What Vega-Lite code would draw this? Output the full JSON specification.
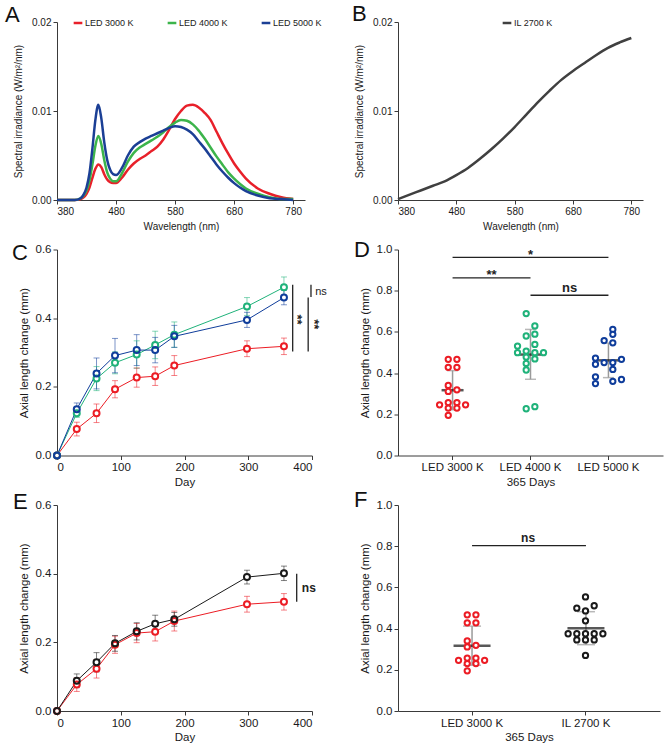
{
"$schema": "https://vega.github.io/schema/vega-lite/v6.json",
"background": "white",
"autosize": {"type": "none"},
"padding": {"left": 57, "top": 22, "right": 612, "bottom": 721},
"columns": 2,
"bounds": "flush",
"spacing": {"row": 49.5, "column": 86},
"resolve": {"scale": {"color": "independent", "stroke": "independent", "xOffset": "independent"}, "legend": {"color": "independent", "stroke": "independent"}},
"config": {
 "font": "Liberation Sans",
 "view": {"stroke": null},
 "axis": {"grid": false, "domainColor": "#3a3a3a", "tickColor": "#3a3a3a", "labelColor": "#1a1a1a", "titleColor": "#1a1a1a", "titleFontWeight": "normal", "domainWidth": 1, "tickWidth": 1, "tickSize": 4, "labelPadding": 2, "labelFontSize": 11.5, "titleFontSize": 11.5, "titlePadding": 6},
 "axisX": {"titlePadding": 3},
 "legend": {"labelColor": "#1a1a1a", "padding": 0},
 "title": {"fontSize": 22, "fontWeight": "normal", "anchor": "start", "frame": "group", "offset": 0, "color": "#111"}
},
"datasets": {
 "spec": [
  {"nm":380,"s":"LED 3000 K","v":0},{"nm":400,"s":"LED 3000 K","v":0},{"nm":410,"s":"LED 3000 K","v":0},{"nm":420,"s":"LED 3000 K","v":0.0001},{"nm":425,"s":"LED 3000 K","v":0.0003},{"nm":430,"s":"LED 3000 K","v":0.0007},{"nm":435,"s":"LED 3000 K","v":0.0014},{"nm":440,"s":"LED 3000 K","v":0.0025},{"nm":445,"s":"LED 3000 K","v":0.0035},{"nm":450,"s":"LED 3000 K","v":0.004},{"nm":455,"s":"LED 3000 K","v":0.0037},{"nm":460,"s":"LED 3000 K","v":0.0029},{"nm":465,"s":"LED 3000 K","v":0.0023},{"nm":470,"s":"LED 3000 K","v":0.002},{"nm":475,"s":"LED 3000 K","v":0.0019},{"nm":480,"s":"LED 3000 K","v":0.0019},{"nm":490,"s":"LED 3000 K","v":0.0025},{"nm":500,"s":"LED 3000 K","v":0.0034},{"nm":510,"s":"LED 3000 K","v":0.0041},{"nm":520,"s":"LED 3000 K","v":0.0046},{"nm":530,"s":"LED 3000 K","v":0.005},{"nm":540,"s":"LED 3000 K","v":0.0055},{"nm":550,"s":"LED 3000 K","v":0.006},{"nm":560,"s":"LED 3000 K","v":0.0068},{"nm":570,"s":"LED 3000 K","v":0.0079},{"nm":580,"s":"LED 3000 K","v":0.0091},{"nm":590,"s":"LED 3000 K","v":0.01},{"nm":600,"s":"LED 3000 K","v":0.0106},{"nm":610,"s":"LED 3000 K","v":0.0107},{"nm":620,"s":"LED 3000 K","v":0.0104},{"nm":630,"s":"LED 3000 K","v":0.0098},{"nm":640,"s":"LED 3000 K","v":0.009},{"nm":650,"s":"LED 3000 K","v":0.0077},{"nm":660,"s":"LED 3000 K","v":0.0064},{"nm":670,"s":"LED 3000 K","v":0.0052},{"nm":680,"s":"LED 3000 K","v":0.0041},{"nm":690,"s":"LED 3000 K","v":0.0032},{"nm":700,"s":"LED 3000 K","v":0.0024},{"nm":720,"s":"LED 3000 K","v":0.0013},{"nm":740,"s":"LED 3000 K","v":0.0007},{"nm":760,"s":"LED 3000 K","v":0.0003},{"nm":780,"s":"LED 3000 K","v":0.0001},
  {"nm":380,"s":"LED 4000 K","v":0},{"nm":400,"s":"LED 4000 K","v":0},{"nm":410,"s":"LED 4000 K","v":0},{"nm":420,"s":"LED 4000 K","v":0.0002},{"nm":425,"s":"LED 4000 K","v":0.0005},{"nm":430,"s":"LED 4000 K","v":0.0011},{"nm":435,"s":"LED 4000 K","v":0.0022},{"nm":440,"s":"LED 4000 K","v":0.004},{"nm":445,"s":"LED 4000 K","v":0.0061},{"nm":450,"s":"LED 4000 K","v":0.0072},{"nm":455,"s":"LED 4000 K","v":0.0063},{"nm":460,"s":"LED 4000 K","v":0.0045},{"nm":465,"s":"LED 4000 K","v":0.0031},{"nm":470,"s":"LED 4000 K","v":0.0024},{"nm":475,"s":"LED 4000 K","v":0.0021},{"nm":480,"s":"LED 4000 K","v":0.0021},{"nm":490,"s":"LED 4000 K","v":0.003},{"nm":500,"s":"LED 4000 K","v":0.0043},{"nm":510,"s":"LED 4000 K","v":0.0053},{"nm":520,"s":"LED 4000 K","v":0.0059},{"nm":530,"s":"LED 4000 K","v":0.0063},{"nm":540,"s":"LED 4000 K","v":0.0067},{"nm":550,"s":"LED 4000 K","v":0.0071},{"nm":560,"s":"LED 4000 K","v":0.0076},{"nm":570,"s":"LED 4000 K","v":0.0082},{"nm":580,"s":"LED 4000 K","v":0.0087},{"nm":590,"s":"LED 4000 K","v":0.009},{"nm":600,"s":"LED 4000 K","v":0.0089},{"nm":610,"s":"LED 4000 K","v":0.0085},{"nm":620,"s":"LED 4000 K","v":0.0078},{"nm":630,"s":"LED 4000 K","v":0.0069},{"nm":640,"s":"LED 4000 K","v":0.0059},{"nm":650,"s":"LED 4000 K","v":0.0049},{"nm":660,"s":"LED 4000 K","v":0.004},{"nm":670,"s":"LED 4000 K","v":0.0031},{"nm":680,"s":"LED 4000 K","v":0.0024},{"nm":690,"s":"LED 4000 K","v":0.0018},{"nm":700,"s":"LED 4000 K","v":0.0013},{"nm":720,"s":"LED 4000 K","v":0.0007},{"nm":740,"s":"LED 4000 K","v":0.0003},{"nm":760,"s":"LED 4000 K","v":0.0001},{"nm":780,"s":"LED 4000 K","v":0.0001},
  {"nm":380,"s":"LED 5000 K","v":0},{"nm":400,"s":"LED 5000 K","v":0},{"nm":410,"s":"LED 5000 K","v":0},{"nm":420,"s":"LED 5000 K","v":0.0002},{"nm":425,"s":"LED 5000 K","v":0.0006},{"nm":430,"s":"LED 5000 K","v":0.0014},{"nm":435,"s":"LED 5000 K","v":0.003},{"nm":440,"s":"LED 5000 K","v":0.0058},{"nm":445,"s":"LED 5000 K","v":0.009},{"nm":450,"s":"LED 5000 K","v":0.0107},{"nm":455,"s":"LED 5000 K","v":0.0092},{"nm":460,"s":"LED 5000 K","v":0.0065},{"nm":465,"s":"LED 5000 K","v":0.0045},{"nm":470,"s":"LED 5000 K","v":0.0034},{"nm":475,"s":"LED 5000 K","v":0.0029},{"nm":480,"s":"LED 5000 K","v":0.0028},{"nm":490,"s":"LED 5000 K","v":0.0036},{"nm":500,"s":"LED 5000 K","v":0.005},{"nm":510,"s":"LED 5000 K","v":0.006},{"nm":520,"s":"LED 5000 K","v":0.0065},{"nm":530,"s":"LED 5000 K","v":0.0069},{"nm":540,"s":"LED 5000 K","v":0.0072},{"nm":550,"s":"LED 5000 K","v":0.0075},{"nm":560,"s":"LED 5000 K","v":0.0078},{"nm":570,"s":"LED 5000 K","v":0.0081},{"nm":580,"s":"LED 5000 K","v":0.0083},{"nm":590,"s":"LED 5000 K","v":0.0082},{"nm":600,"s":"LED 5000 K","v":0.0079},{"nm":610,"s":"LED 5000 K","v":0.0074},{"nm":620,"s":"LED 5000 K","v":0.0066},{"nm":630,"s":"LED 5000 K","v":0.0058},{"nm":640,"s":"LED 5000 K","v":0.0049},{"nm":650,"s":"LED 5000 K","v":0.004},{"nm":660,"s":"LED 5000 K","v":0.0032},{"nm":670,"s":"LED 5000 K","v":0.0025},{"nm":680,"s":"LED 5000 K","v":0.0019},{"nm":690,"s":"LED 5000 K","v":0.0014},{"nm":700,"s":"LED 5000 K","v":0.001},{"nm":720,"s":"LED 5000 K","v":0.0005},{"nm":740,"s":"LED 5000 K","v":0.0002},{"nm":760,"s":"LED 5000 K","v":0.0001},{"nm":780,"s":"LED 5000 K","v":0}
 ],
 "il": [
  {"nm":380,"s":"IL 2700 K","v":0.0001},{"nm":400,"s":"IL 2700 K","v":0.0006},{"nm":420,"s":"IL 2700 K","v":0.0011},{"nm":440,"s":"IL 2700 K","v":0.0016},{"nm":460,"s":"IL 2700 K","v":0.0021},{"nm":480,"s":"IL 2700 K","v":0.0028},{"nm":500,"s":"IL 2700 K","v":0.0036},{"nm":520,"s":"IL 2700 K","v":0.0046},{"nm":540,"s":"IL 2700 K","v":0.0057},{"nm":560,"s":"IL 2700 K","v":0.0069},{"nm":580,"s":"IL 2700 K","v":0.0082},{"nm":600,"s":"IL 2700 K","v":0.0096},{"nm":620,"s":"IL 2700 K","v":0.011},{"nm":640,"s":"IL 2700 K","v":0.0123},{"nm":660,"s":"IL 2700 K","v":0.0135},{"nm":680,"s":"IL 2700 K","v":0.0145},{"nm":700,"s":"IL 2700 K","v":0.0154},{"nm":720,"s":"IL 2700 K","v":0.0163},{"nm":740,"s":"IL 2700 K","v":0.0171},{"nm":760,"s":"IL 2700 K","v":0.0177},{"nm":780,"s":"IL 2700 K","v":0.0182}
 ],
 "ts": [
  {"d":0,"s":"LED 3000 K","m":0,"lo":0,"hi":0},{"d":31,"s":"LED 3000 K","m":0.077,"lo":0.057,"hi":0.097},{"d":62,"s":"LED 3000 K","m":0.123,"lo":0.096,"hi":0.15},{"d":91,"s":"LED 3000 K","m":0.193,"lo":0.168,"hi":0.218},{"d":125,"s":"LED 3000 K","m":0.227,"lo":0.199,"hi":0.255},{"d":154,"s":"LED 3000 K","m":0.231,"lo":0.204,"hi":0.258},{"d":184,"s":"LED 3000 K","m":0.262,"lo":0.233,"hi":0.291},{"d":298,"s":"LED 3000 K","m":0.311,"lo":0.288,"hi":0.334},{"d":356,"s":"LED 3000 K","m":0.318,"lo":0.294,"hi":0.342},
  {"d":0,"s":"LED 4000 K","m":0,"lo":0,"hi":0},{"d":31,"s":"LED 4000 K","m":0.123,"lo":0.111,"hi":0.135},{"d":62,"s":"LED 4000 K","m":0.224,"lo":0.189,"hi":0.259},{"d":91,"s":"LED 4000 K","m":0.27,"lo":0.238,"hi":0.302},{"d":125,"s":"LED 4000 K","m":0.294,"lo":0.254,"hi":0.334},{"d":154,"s":"LED 4000 K","m":0.322,"lo":0.282,"hi":0.362},{"d":184,"s":"LED 4000 K","m":0.352,"lo":0.315,"hi":0.389},{"d":298,"s":"LED 4000 K","m":0.434,"lo":0.408,"hi":0.46},{"d":356,"s":"LED 4000 K","m":0.49,"lo":0.46,"hi":0.52},
  {"d":0,"s":"LED 5000 K","m":0,"lo":0,"hi":0},{"d":31,"s":"LED 5000 K","m":0.135,"lo":0.117,"hi":0.153},{"d":62,"s":"LED 5000 K","m":0.239,"lo":0.194,"hi":0.284},{"d":91,"s":"LED 5000 K","m":0.291,"lo":0.241,"hi":0.341},{"d":125,"s":"LED 5000 K","m":0.307,"lo":0.262,"hi":0.352},{"d":154,"s":"LED 5000 K","m":0.307,"lo":0.27,"hi":0.344},{"d":184,"s":"LED 5000 K","m":0.347,"lo":0.315,"hi":0.379},{"d":298,"s":"LED 5000 K","m":0.395,"lo":0.373,"hi":0.417},{"d":356,"s":"LED 5000 K","m":0.46,"lo":0.439,"hi":0.481},
  {"d":0,"s":"IL 2700 K","m":0,"lo":0,"hi":0},{"d":31,"s":"IL 2700 K","m":0.088,"lo":0.068,"hi":0.108},{"d":62,"s":"IL 2700 K","m":0.142,"lo":0.114,"hi":0.17},{"d":91,"s":"IL 2700 K","m":0.197,"lo":0.174,"hi":0.22},{"d":125,"s":"IL 2700 K","m":0.232,"lo":0.207,"hi":0.257},{"d":154,"s":"IL 2700 K","m":0.254,"lo":0.229,"hi":0.279},{"d":184,"s":"IL 2700 K","m":0.267,"lo":0.247,"hi":0.287},{"d":298,"s":"IL 2700 K","m":0.39,"lo":0.37,"hi":0.41},{"d":356,"s":"IL 2700 K","m":0.401,"lo":0.38,"hi":0.422}
 ],
 "dots": [
  {"g":"LED 3000 K","v":0.467,"o":-0.5},{"g":"LED 3000 K","v":0.467,"o":0.5},{"g":"LED 3000 K","v":0.428,"o":-0.5},{"g":"LED 3000 K","v":0.428,"o":0.5},{"g":"LED 3000 K","v":0.34,"o":-0.5},{"g":"LED 3000 K","v":0.311,"o":-0.5},{"g":"LED 3000 K","v":0.319,"o":0.5},{"g":"LED 3000 K","v":0.257,"o":-0.5},{"g":"LED 3000 K","v":0.257,"o":0.5},{"g":"LED 3000 K","v":0.246,"o":-1.5},{"g":"LED 3000 K","v":0.246,"o":1.5},{"g":"LED 3000 K","v":0.23,"o":-0.5},{"g":"LED 3000 K","v":0.23,"o":0.5},{"g":"LED 3000 K","v":0.195,"o":-0.5},
  {"g":"LED 4000 K","v":0.689,"o":-0.5},{"g":"LED 4000 K","v":0.629,"o":0.5},{"g":"LED 4000 K","v":0.58,"o":-0.5},{"g":"LED 4000 K","v":0.589,"o":0.5},{"g":"LED 4000 K","v":0.539,"o":0.5},{"g":"LED 4000 K","v":0.531,"o":-1.5},{"g":"LED 4000 K","v":0.499,"o":-1.5},{"g":"LED 4000 K","v":0.507,"o":-0.5},{"g":"LED 4000 K","v":0.499,"o":0.5},{"g":"LED 4000 K","v":0.499,"o":1.5},{"g":"LED 4000 K","v":0.478,"o":-0.5},{"g":"LED 4000 K","v":0.469,"o":0.5},{"g":"LED 4000 K","v":0.447,"o":-0.5},{"g":"LED 4000 K","v":0.415,"o":-0.5},{"g":"LED 4000 K","v":0.227,"o":-0.5},{"g":"LED 4000 K","v":0.237,"o":0.5},
  {"g":"LED 5000 K","v":0.612,"o":0.5},{"g":"LED 5000 K","v":0.588,"o":0.5},{"g":"LED 5000 K","v":0.558,"o":-0.5},{"g":"LED 5000 K","v":0.547,"o":0.5},{"g":"LED 5000 K","v":0.473,"o":-1.5},{"g":"LED 5000 K","v":0.443,"o":-1.5},{"g":"LED 5000 K","v":0.451,"o":-0.5},{"g":"LED 5000 K","v":0.451,"o":0.5},{"g":"LED 5000 K","v":0.467,"o":1.5},{"g":"LED 5000 K","v":0.418,"o":0.5},{"g":"LED 5000 K","v":0.382,"o":-1.5},{"g":"LED 5000 K","v":0.349,"o":-1.5},{"g":"LED 5000 K","v":0.36,"o":0.5},{"g":"LED 5000 K","v":0.369,"o":1.5},
  {"g":"IL 2700 K","v":0.554,"o":0},{"g":"IL 2700 K","v":0.499,"o":-1},{"g":"IL 2700 K","v":0.486,"o":0},{"g":"IL 2700 K","v":0.511,"o":1},{"g":"IL 2700 K","v":0.438,"o":0},{"g":"IL 2700 K","v":0.375,"o":-2},{"g":"IL 2700 K","v":0.375,"o":-1},{"g":"IL 2700 K","v":0.375,"o":0},{"g":"IL 2700 K","v":0.375,"o":1},{"g":"IL 2700 K","v":0.375,"o":2},{"g":"IL 2700 K","v":0.345,"o":-1},{"g":"IL 2700 K","v":0.345,"o":0},{"g":"IL 2700 K","v":0.345,"o":1},{"g":"IL 2700 K","v":0.27,"o":0}
 ],
 "sum": [
  {"g":"LED 3000 K","m":0.317,"lo":0.222,"hi":0.412},{"g":"LED 4000 K","m":0.49,"lo":0.37,"hi":0.612},{"g":"LED 5000 K","m":0.462,"lo":0.378,"hi":0.546},{"g":"IL 2700 K","m":0.402,"lo":0.322,"hi":0.482}
 ]
},
"concat": [
 {
  "width": 248, "height": 178,
  "title": {"text": "A", "dx": -52, "dy": 14},
  "data": {"name": "spec"},
  "mark": {"type": "line", "strokeWidth": 2.5, "interpolate": "monotone"},
  "encoding": {
   "x": {"field": "nm", "type": "quantitative", "scale": {"domain": [380, 800], "nice": false, "zero": false}, "axis": {"values": [380, 480, 580, 680, 780], "title": "Wavelength (nm)", "labelFontSize": 10, "titleFontSize": 10, "titlePadding": 5}},
   "y": {"field": "v", "type": "quantitative", "scale": {"domain": [0, 0.02]}, "axis": {"values": [0, 0.01, 0.02], "format": ".2f", "title": "Spectral irradiance  (W/m²/nm)", "labelFontSize": 10, "titleFontSize": 10, "titlePadding": 8}},
   "color": {"field": "s", "type": "nominal", "scale": {"domain": ["LED 3000 K", "LED 4000 K", "LED 5000 K"], "range": ["#e8202a", "#3cb44b", "#1b3f95"]}, "legend": {"title": null, "orient": "none", "legendX": 15, "legendY": -5, "direction": "horizontal", "symbolType": "stroke", "symbolSize": 75, "symbolStrokeWidth": 2.5, "labelFontSize": 9, "labelOffset": 1, "columnPadding": 28}}
  }
 },
 {
  "width": 245, "height": 178,
  "title": {"text": "B", "dx": -46, "dy": 13},
  "data": {"name": "il"},
  "mark": {"type": "line", "strokeWidth": 2.5, "interpolate": "monotone"},
  "encoding": {
   "x": {"field": "nm", "type": "quantitative", "scale": {"domain": [380, 800], "nice": false, "zero": false}, "axis": {"values": [380, 480, 580, 680, 780], "title": "Wavelength (nm)", "labelFontSize": 10, "titleFontSize": 10, "titlePadding": 5}},
   "y": {"field": "v", "type": "quantitative", "scale": {"domain": [0, 0.02]}, "axis": {"values": [0, 0.01, 0.02], "format": ".2f", "title": "Spectral irradiance  (W/m²/nm)", "labelFontSize": 10, "titleFontSize": 10, "titlePadding": 8}},
   "color": {"field": "s", "type": "nominal", "scale": {"domain": ["IL 2700 K"], "range": ["#404040"]}, "legend": {"title": null, "orient": "none", "legendX": 103, "legendY": -5, "direction": "horizontal", "symbolType": "stroke", "symbolSize": 75, "symbolStrokeWidth": 2.5, "labelFontSize": 9, "labelOffset": 1}}
  }
 },
 {
  "width": 255, "height": 206,
  "title": {"text": "C", "dx": -45, "dy": 25},
  "layer": [
   {"data": {"name": "ts"}, "transform": [{"filter": "datum.s !== 'IL 2700 K' && datum.d > 0"}],
    "mark": {"type": "rule", "strokeWidth": 1, "opacity": 0.55},
    "encoding": {
     "x": {"field": "d", "type": "quantitative", "title": "Day", "scale": {"domain": [0, 400], "nice": false}, "axis": {"values": [0, 50, 100, 150, 200, 250, 300, 350, 400]}},
     "y": {"field": "lo", "type": "quantitative", "title": "Axial length change (mm)", "scale": {"domain": [0, 0.6]}, "axis": {"values": [0, 0.2, 0.4, 0.6], "format": ".1f"}},
     "y2": {"field": "hi"},
     "color": {"field": "s", "type": "nominal", "scale": {"domain": ["LED 3000 K", "LED 4000 K", "LED 5000 K"], "range": ["#ec1c24", "#1fb27a", "#0f3d9b"]}, "legend": null}
    }},
   {"data": {"name": "ts"}, "transform": [{"filter": "datum.s !== 'IL 2700 K' && datum.d > 0"}],
    "mark": {"type": "tick", "orient": "horizontal", "size": 6, "thickness": 1, "opacity": 0.55},
    "encoding": {"x": {"field": "d", "type": "quantitative", "title": "Day"}, "y": {"field": "lo", "type": "quantitative", "title": "Axial length change (mm)"}, "color": {"field": "s", "type": "nominal", "legend": null}}},
   {"data": {"name": "ts"}, "transform": [{"filter": "datum.s !== 'IL 2700 K' && datum.d > 0"}],
    "mark": {"type": "tick", "orient": "horizontal", "size": 6, "thickness": 1, "opacity": 0.55},
    "encoding": {"x": {"field": "d", "type": "quantitative", "title": "Day"}, "y": {"field": "hi", "type": "quantitative", "title": "Axial length change (mm)"}, "color": {"field": "s", "type": "nominal", "legend": null}}},
   {"data": {"name": "ts"}, "transform": [{"filter": "datum.s !== 'IL 2700 K'"}],
    "mark": {"type": "line", "strokeWidth": 1},
    "encoding": {"x": {"field": "d", "type": "quantitative", "title": "Day"}, "y": {"field": "m", "type": "quantitative", "title": "Axial length change (mm)"}, "color": {"field": "s", "type": "nominal", "legend": null}}},
   {"data": {"name": "ts"}, "transform": [{"filter": "datum.s !== 'IL 2700 K'"}],
    "mark": {"type": "point", "shape": "circle", "filled": true, "color": "white", "size": 36, "opacity": 1},
    "encoding": {"x": {"field": "d", "type": "quantitative", "title": "Day"}, "y": {"field": "m", "type": "quantitative", "title": "Axial length change (mm)"}}},
   {"data": {"name": "ts"}, "transform": [{"filter": "datum.s !== 'IL 2700 K'"}],
    "mark": {"type": "point", "shape": "circle", "filled": false, "size": 36, "strokeWidth": 2, "opacity": 1},
    "encoding": {"x": {"field": "d", "type": "quantitative", "title": "Day"}, "y": {"field": "m", "type": "quantitative", "title": "Axial length change (mm)"},
     "color": {"field": "s", "type": "nominal", "legend": {"title": null, "orient": "none", "legendX": 6, "legendY": -4, "direction": "horizontal", "symbolType": "M-1,0L-0.54,0M0.54,0L1,0M0.54,0A0.54,0.54,0,1,1,-0.54,0A0.54,0.54,0,1,1,0.54,0", "symbolSize": 144, "symbolStrokeWidth": 1.7, "labelFontSize": 10, "labelOffset": 6, "columnPadding": 22}}}},
   {"data": {"values": [{"d": 369.7, "m": 0.303, "m2": 0.497}, {"d": 394, "m": 0.303, "m2": 0.46}, {"d": 398.4, "m": 0.462, "m2": 0.497}]},
    "mark": {"type": "rule", "strokeWidth": 1.3, "color": "#222"},
    "encoding": {"x": {"field": "d", "type": "quantitative", "title": "Day"}, "y": {"field": "m", "type": "quantitative", "title": "Axial length change (mm)"}, "y2": {"field": "m2"}}},
   {"data": {"values": [{"d": 376, "m": 0.396, "t": "**"}, {"d": 403, "m": 0.382, "t": "**"}]},
    "mark": {"type": "text", "angle": 90, "fontSize": 13, "fontWeight": "bold", "align": "center", "baseline": "middle", "color": "#222"},
    "encoding": {"x": {"field": "d", "type": "quantitative", "title": "Day"}, "y": {"field": "m", "type": "quantitative", "title": "Axial length change (mm)"}, "text": {"field": "t"}}},
   {"data": {"values": [{"d": 405, "m": 0.477, "t": "ns"}]},
    "mark": {"type": "text", "fontSize": 11, "align": "left", "baseline": "middle", "color": "#222"},
    "encoding": {"x": {"field": "d", "type": "quantitative", "title": "Day"}, "y": {"field": "m", "type": "quantitative", "title": "Axial length change (mm)"}, "text": {"field": "t"}}}
  ]
 },
 {
  "width": 265, "height": 206,
  "title": {"text": "D", "dx": -44, "dy": 22},
  "layer": [
   {"data": {"name": "sum"}, "transform": [{"filter": "datum.g !== 'IL 2700 K'"}],
    "mark": {"type": "rule", "color": "#9a9a9a", "strokeWidth": 1.5},
    "encoding": {
     "x": {"field": "g", "type": "nominal", "title": "365 Days", "sort": ["LED 3000 K", "LED 4000 K", "LED 5000 K"], "scale": {"type": "band", "paddingInner": 0, "paddingOuter": 0.2, "domain": ["LED 3000 K", "LED 4000 K", "LED 5000 K"]}, "axis": {"labelAngle": 0}},
     "y": {"field": "lo", "type": "quantitative", "title": "Axial length change (mm)", "scale": {"domain": [0, 1]}, "axis": {"values": [0, 0.2, 0.4, 0.6, 0.8, 1], "format": ".1f"}},
     "y2": {"field": "hi"}
    }},
   {"data": {"name": "sum"}, "transform": [{"filter": "datum.g !== 'IL 2700 K'"}],
    "mark": {"type": "tick", "color": "#9a9a9a", "thickness": 1.5, "size": 11},
    "encoding": {"x": {"field": "g", "type": "nominal", "title": "365 Days"}, "y": {"field": "lo", "type": "quantitative", "title": "Axial length change (mm)"}}},
   {"data": {"name": "sum"}, "transform": [{"filter": "datum.g !== 'IL 2700 K'"}],
    "mark": {"type": "tick", "color": "#9a9a9a", "thickness": 1.5, "size": 11},
    "encoding": {"x": {"field": "g", "type": "nominal", "title": "365 Days"}, "y": {"field": "hi", "type": "quantitative", "title": "Axial length change (mm)"}}},
   {"data": {"name": "sum"}, "transform": [{"filter": "datum.g !== 'IL 2700 K'"}],
    "mark": {"type": "tick", "color": "#111", "thickness": 2.5, "size": 22},
    "encoding": {"x": {"field": "g", "type": "nominal", "title": "365 Days"}, "y": {"field": "m", "type": "quantitative", "title": "Axial length change (mm)"}}},
   {"data": {"name": "dots"}, "transform": [{"filter": "datum.g !== 'IL 2700 K'"}],
    "mark": {"type": "point", "shape": "circle", "filled": true, "fill": "white", "size": 28, "strokeWidth": 2, "opacity": 1},
    "encoding": {"x": {"field": "g", "type": "nominal", "title": "365 Days"},
     "xOffset": {"field": "o", "type": "quantitative", "scale": {"domain": [-4.5, 4.5], "range": [0, 78]}},
     "y": {"field": "v", "type": "quantitative", "title": "Axial length change (mm)"},
     "stroke": {"field": "g", "type": "nominal", "scale": {"domain": ["LED 3000 K", "LED 4000 K", "LED 5000 K"], "range": ["#ec1c24", "#1fb27a", "#0f3d9b"]}, "legend": null}}},
   {"data": {"values": [{"g": "LED 3000 K", "g2": "LED 5000 K", "v": 0.962}, {"g": "LED 3000 K", "g2": "LED 4000 K", "v": 0.862}, {"g": "LED 4000 K", "g2": "LED 5000 K", "v": 0.778}]},
    "mark": {"type": "rule", "color": "#222", "strokeWidth": 1.3},
    "encoding": {"x": {"field": "g", "type": "nominal", "title": "365 Days"}, "x2": {"field": "g2"}, "y": {"field": "v", "type": "quantitative", "title": "Axial length change (mm)"}}},
   {"data": {"values": [{"g": "LED 4000 K", "o": 0, "v": 0.955, "t": "*"}, {"g": "LED 3000 K", "o": 4.5, "v": 0.855, "t": "**"}, {"g": "LED 4000 K", "o": 4.5, "v": 0.794, "t": "ns"}]},
    "mark": {"type": "text", "fontSize": 13, "fontWeight": "bold", "baseline": "alphabetic", "color": "#222"},
    "encoding": {"x": {"field": "g", "type": "nominal", "title": "365 Days"}, "xOffset": {"field": "o", "type": "quantitative"}, "y": {"field": "v", "type": "quantitative", "title": "Axial length change (mm)"}, "text": {"field": "t"}}}
  ]
 },
 {
  "width": 255, "height": 206,
  "title": {"text": "E", "dx": -44, "dy": 19},
  "layer": [
   {"data": {"name": "ts"}, "transform": [{"filter": "(datum.s === 'IL 2700 K' || datum.s === 'LED 3000 K') && datum.d > 0"}],
    "mark": {"type": "rule", "strokeWidth": 1, "opacity": 0.55},
    "encoding": {
     "x": {"field": "d", "type": "quantitative", "title": "Day", "scale": {"domain": [0, 400], "nice": false}, "axis": {"values": [0, 50, 100, 150, 200, 250, 300, 350, 400]}},
     "y": {"field": "lo", "type": "quantitative", "title": "Axial length change (mm)", "scale": {"domain": [0, 0.6]}, "axis": {"values": [0, 0.2, 0.4, 0.6], "format": ".1f"}},
     "y2": {"field": "hi"},
     "color": {"field": "s", "type": "nominal", "scale": {"domain": ["LED 3000 K", "IL 2700 K"], "range": ["#ec1c24", "#1a1a1a"]}, "legend": null}
    }},
   {"data": {"name": "ts"}, "transform": [{"filter": "(datum.s === 'IL 2700 K' || datum.s === 'LED 3000 K') && datum.d > 0"}],
    "mark": {"type": "tick", "orient": "horizontal", "size": 6, "thickness": 1, "opacity": 0.55},
    "encoding": {"x": {"field": "d", "type": "quantitative", "title": "Day"}, "y": {"field": "lo", "type": "quantitative", "title": "Axial length change (mm)"}, "color": {"field": "s", "type": "nominal", "legend": null}}},
   {"data": {"name": "ts"}, "transform": [{"filter": "(datum.s === 'IL 2700 K' || datum.s === 'LED 3000 K') && datum.d > 0"}],
    "mark": {"type": "tick", "orient": "horizontal", "size": 6, "thickness": 1, "opacity": 0.55},
    "encoding": {"x": {"field": "d", "type": "quantitative", "title": "Day"}, "y": {"field": "hi", "type": "quantitative", "title": "Axial length change (mm)"}, "color": {"field": "s", "type": "nominal", "legend": null}}},
   {"data": {"name": "ts"}, "transform": [{"filter": "datum.s === 'IL 2700 K' || datum.s === 'LED 3000 K'"}],
    "mark": {"type": "line", "strokeWidth": 1},
    "encoding": {"x": {"field": "d", "type": "quantitative", "title": "Day"}, "y": {"field": "m", "type": "quantitative", "title": "Axial length change (mm)"}, "color": {"field": "s", "type": "nominal", "legend": null}}},
   {"data": {"name": "ts"}, "transform": [{"filter": "datum.s === 'IL 2700 K' || datum.s === 'LED 3000 K'"}],
    "mark": {"type": "point", "shape": "circle", "filled": true, "color": "white", "size": 36, "opacity": 1},
    "encoding": {"x": {"field": "d", "type": "quantitative", "title": "Day"}, "y": {"field": "m", "type": "quantitative", "title": "Axial length change (mm)"}}},
   {"data": {"name": "ts"}, "transform": [{"filter": "datum.s === 'IL 2700 K' || datum.s === 'LED 3000 K'"}],
    "mark": {"type": "point", "shape": "circle", "filled": false, "size": 36, "strokeWidth": 2, "opacity": 1},
    "encoding": {"x": {"field": "d", "type": "quantitative", "title": "Day"}, "y": {"field": "m", "type": "quantitative", "title": "Axial length change (mm)"},
     "color": {"field": "s", "type": "nominal", "legend": {"title": null, "orient": "none", "legendX": 6, "legendY": -6, "direction": "horizontal", "symbolType": "M-1,0L-0.54,0M0.54,0L1,0M0.54,0A0.54,0.54,0,1,1,-0.54,0A0.54,0.54,0,1,1,0.54,0", "symbolSize": 144, "symbolStrokeWidth": 1.7, "labelFontSize": 10, "labelOffset": 6, "columnPadding": 109}}}},
   {"data": {"values": [{"d": 376, "m": 0.318, "m2": 0.4}]},
    "mark": {"type": "rule", "strokeWidth": 1.3, "color": "#222"},
    "encoding": {"x": {"field": "d", "type": "quantitative", "title": "Day"}, "y": {"field": "m", "type": "quantitative", "title": "Axial length change (mm)"}, "y2": {"field": "m2"}}},
   {"data": {"values": [{"d": 384, "m": 0.357, "t": "ns"}]},
    "mark": {"type": "text", "fontSize": 12, "fontWeight": "bold", "align": "left", "baseline": "middle", "color": "#222"},
    "encoding": {"x": {"field": "d", "type": "quantitative", "title": "Day"}, "y": {"field": "m", "type": "quantitative", "title": "Axial length change (mm)"}, "text": {"field": "t"}}}
  ]
 },
 {
  "width": 262, "height": 206,
  "title": {"text": "F", "dx": -44, "dy": 17},
  "layer": [
   {"data": {"name": "sum"}, "transform": [{"filter": "datum.g === 'IL 2700 K' || datum.g === 'LED 3000 K'"}],
    "mark": {"type": "rule", "color": "#9a9a9a", "strokeWidth": 1.5},
    "encoding": {
     "x": {"field": "g", "type": "nominal", "title": "365 Days", "sort": ["LED 3000 K", "IL 2700 K"], "scale": {"type": "band", "paddingInner": 0, "paddingOuter": 0.15, "domain": ["LED 3000 K", "IL 2700 K"]}, "axis": {"labelAngle": 0}},
     "y": {"field": "lo", "type": "quantitative", "title": "Axial length change (mm)", "scale": {"domain": [0, 1]}, "axis": {"values": [0, 0.2, 0.4, 0.6, 0.8, 1], "format": ".1f"}},
     "y2": {"field": "hi"}
    }},
   {"data": {"name": "sum"}, "transform": [{"filter": "datum.g === 'IL 2700 K' || datum.g === 'LED 3000 K'"}],
    "mark": {"type": "tick", "color": "#9a9a9a", "thickness": 1.5, "size": 18},
    "encoding": {"x": {"field": "g", "type": "nominal", "title": "365 Days"}, "y": {"field": "lo", "type": "quantitative", "title": "Axial length change (mm)"}}},
   {"data": {"name": "sum"}, "transform": [{"filter": "datum.g === 'IL 2700 K' || datum.g === 'LED 3000 K'"}],
    "mark": {"type": "tick", "color": "#9a9a9a", "thickness": 1.5, "size": 18},
    "encoding": {"x": {"field": "g", "type": "nominal", "title": "365 Days"}, "y": {"field": "hi", "type": "quantitative", "title": "Axial length change (mm)"}}},
   {"data": {"name": "sum"}, "transform": [{"filter": "datum.g === 'IL 2700 K' || datum.g === 'LED 3000 K'"}],
    "mark": {"type": "tick", "color": "#111", "thickness": 2.5, "size": 37},
    "encoding": {"x": {"field": "g", "type": "nominal", "title": "365 Days"}, "y": {"field": "m", "type": "quantitative", "title": "Axial length change (mm)"}}},
   {"data": {"name": "dots"}, "transform": [{"filter": "datum.g === 'IL 2700 K' || datum.g === 'LED 3000 K'"}],
    "mark": {"type": "point", "shape": "circle", "filled": true, "fill": "white", "size": 28, "strokeWidth": 2, "opacity": 1},
    "encoding": {"x": {"field": "g", "type": "nominal", "title": "365 Days"},
     "xOffset": {"field": "o", "type": "quantitative", "scale": {"domain": [-6.5, 6.5], "range": [0, 113]}},
     "y": {"field": "v", "type": "quantitative", "title": "Axial length change (mm)"},
     "stroke": {"field": "g", "type": "nominal", "scale": {"domain": ["LED 3000 K", "IL 2700 K"], "range": ["#ec1c24", "#1a1a1a"]}, "legend": null}}},
   {"data": {"values": [{"g": "LED 3000 K", "g2": "IL 2700 K", "v": 0.8025}]},
    "mark": {"type": "rule", "color": "#222", "strokeWidth": 1.3},
    "encoding": {"x": {"field": "g", "type": "nominal", "title": "365 Days"}, "x2": {"field": "g2"}, "y": {"field": "v", "type": "quantitative", "title": "Axial length change (mm)"}}},
   {"data": {"values": [{"g": "LED 3000 K", "o": 6.5, "v": 0.822, "t": "ns"}]},
    "mark": {"type": "text", "fontSize": 12, "fontWeight": "bold", "baseline": "alphabetic", "color": "#222"},
    "encoding": {"x": {"field": "g", "type": "nominal", "title": "365 Days"}, "xOffset": {"field": "o", "type": "quantitative"}, "y": {"field": "v", "type": "quantitative", "title": "Axial length change (mm)"}, "text": {"field": "t"}}}
  ]
 }
]
}
